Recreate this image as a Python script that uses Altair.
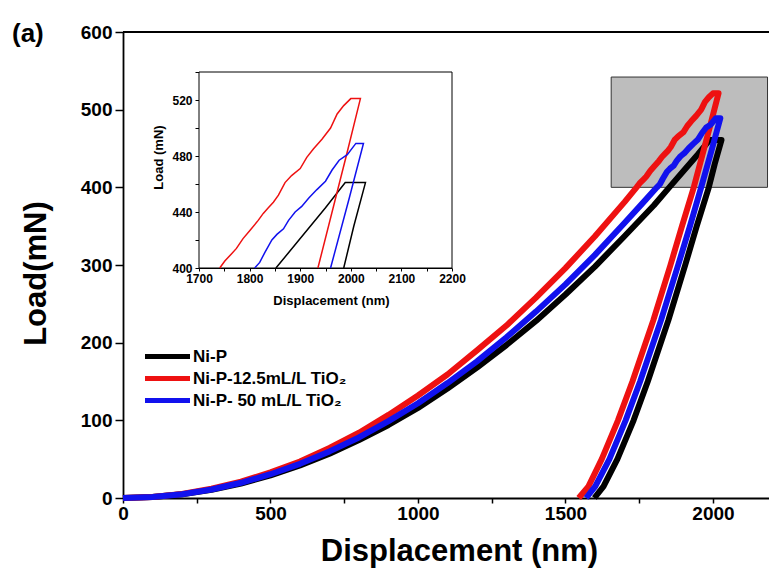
import altair as alt
import pandas as pd

# ---------------- data ----------------
series_names = ["Ni-P", "Ni-P-12.5mL/L TiO₂", "Ni-P- 50 mL/L TiO₂"]
series_colors = ["#000000", "#ee1111", "#1111ee"]

# Ni-P (black): loading, hold, unloading
nip_disp = [0, 100, 200, 300, 400, 500, 600, 700, 800, 900, 1000, 1100, 1200, 1300,
            1400, 1500, 1600, 1700, 1800, 1852, 1900, 1950, 1989, 2029,
            2006, 1986, 1945, 1906, 1849, 1779, 1731, 1676, 1629, 1598]
nip_load = [0, 1.2, 4.7, 10.5, 18.6, 29, 42, 57, 74.5, 94, 116, 141, 168, 197,
            228, 262, 298, 337, 377, 400, 421, 443, 461, 461,
            430, 400, 350, 300, 229, 150, 100, 50, 15, 0]

# Ni-P-12.5 mL/L TiO2 (red)
red_disp = [0, 100, 200, 300, 400, 500, 600, 700, 800, 900, 1000, 1100, 1200, 1300,
            1400, 1500, 1600, 1700, 1741, 1751, 1764, 1774, 1787, 1801, 1817, 1827,
            1837, 1847, 1857, 1870, 1883, 1900, 1913, 1926, 1943, 1960, 1973, 1986,
            2000, 2019,
            1991, 1970, 1935, 1895, 1856, 1798, 1727, 1678, 1623, 1578, 1545]
red_load = [0, 1.3, 5.3, 12, 21, 33, 47, 64.5, 84, 107, 132, 159, 190, 222,
            258, 296, 337, 381, 400, 405, 410, 414, 421, 427, 434, 439,
            443, 447, 452, 461, 466, 471, 479, 485, 492, 500, 510, 516,
            521, 521,
            480, 450, 400, 350, 300, 229, 150, 100, 50, 15, 0]

# Ni-P-50 mL/L TiO2 (blue)
blue_disp = [0, 100, 200, 300, 400, 500, 600, 700, 800, 900, 1000, 1100, 1200, 1300,
             1400, 1500, 1600, 1700, 1760, 1810, 1820, 1830, 1844, 1854, 1867, 1877,
             1890, 1903, 1917, 1933, 1950, 1963, 1977, 1993, 2010, 2025,
             1997, 1960, 1922, 1882, 1824, 1753, 1704, 1649, 1601, 1570]
blue_load = [0, 1.2, 4.9, 11, 19.6, 30.6, 44, 60, 78, 99, 122, 148, 176, 207,
             240, 275, 313, 354, 379, 400, 404, 411, 420, 424, 428, 434,
             440, 444, 450, 456, 462, 470, 477, 481, 489, 489,
             450, 400, 350, 300, 229, 150, 100, 50, 15, 0]

# grey box marking the zoomed region in the main plot
box_disp = [1655, 2185]
box_load = [400, 542]

# inset ranges
inset_disp = [1700, 2200]
inset_load = [400, 540]

main_x_ticks = [0, 250, 500, 750, 1000, 1250, 1500, 1750, 2000]
main_y_ticks = [0, 50, 100, 150, 200, 250, 300, 350, 400, 450, 500, 550, 600]
inset_x_ticks = [1700, 1750, 1800, 1850, 1900, 1950, 2000, 2050, 2100, 2150, 2200]
inset_y_ticks = [400, 420, 440, 460, 480, 500, 520, 540]

# ---------------- tables ----------------
rows = []
for name, disp, load in zip(series_names, [nip_disp, red_disp, blue_disp],
                            [nip_load, red_load, blue_load]):
    for i, (d, p) in enumerate(zip(disp, load)):
        rows.append({"series": name, "disp": d, "load": p, "idx": i})
df = pd.DataFrame(rows)

box_df = pd.DataFrame({"x0": [box_disp[0]], "x1": [box_disp[1]],
                       "y0": [box_load[0]], "y1": [box_load[1]]})
frame_df = pd.DataFrame({"x0": [inset_disp[0]], "x1": [inset_disp[1]],
                         "y0": [inset_load[0]], "y1": [inset_load[1]]})

W, H = 646, 466
X_MAX = 2190
FONT = "Liberation Sans"

color = alt.Color(
    "series:N",
    scale=alt.Scale(domain=series_names, range=series_colors),
    legend=alt.Legend(
        orient="none", legendX=33, legendY=313, title=None,
        symbolType="M-2.5,0H2.5", symbolStrokeWidth=5, symbolSize=324,
        labelFont=FONT, labelFontWeight="bold", labelFontSize=17,
        labelColor="black", labelOffset=14, rowPadding=0, labelLimit=400,
    ),
)

# ---------------- main plot ----------------
main_xscale = alt.Scale(domain=[0, X_MAX], nice=False, zero=False)
main_yscale = alt.Scale(domain=[0, 600], nice=False)

main_xaxis = alt.Axis(
    values=main_x_ticks, format="d", labelFlush=False,
    labelExpr="datum.value % 500 === 0 ? datum.label : ''",
    tickSize=5, tickWidth=1.5, domainWidth=1.8, labelPadding=1, labelFontSize=19,
    title="Displacement (nm)", titleFontSize=31, titleX=336, titleY=62,
    titleBaseline="alphabetic", titleAlign="center",
)
main_yaxis = alt.Axis(
    values=main_y_ticks, format="d", labelFlush=False,
    labelExpr="datum.value % 100 === 0 ? datum.label : ''",
    tickSize=8, tickWidth=1.5, domainWidth=1.8, labelPadding=3, labelFontSize=19,
    title="Load(mN)", titleFontSize=31, titleAngle=270, titleX=-78, titleY=241,
    titleBaseline="alphabetic", titleAlign="center",
)

box = alt.Chart(box_df).mark_rect(fill="#bdbdbd", stroke="#333333", strokeWidth=1).encode(
    x=alt.X("x0:Q", scale=main_xscale, axis=main_xaxis),
    x2="x1:Q",
    y=alt.Y("y0:Q", scale=main_yscale, axis=main_yaxis),
    y2="y1:Q",
)

lines = alt.Chart(df).mark_line(strokeWidth=6, strokeJoin="round").encode(
    x=alt.X("disp:Q", scale=main_xscale, axis=main_xaxis),
    y=alt.Y("load:Q", scale=main_yscale, axis=main_yaxis),
    color=color,
    order="idx:Q",
)

top_rule = alt.Chart(box_df).mark_rule(color="black", strokeWidth=1.8).encode(
    x=alt.datum(0), x2=alt.datum(X_MAX), y=alt.datum(600)
)

panel_label = alt.Chart(box_df).mark_text(
    text="(a)", font=FONT, fontWeight="bold", fontSize=26, align="left",
    baseline="alphabetic", color="black",
).encode(x=alt.value(-111), y=alt.value(10))

main = alt.layer(box, lines, top_rule, panel_label)

# ---------------- inset ----------------
inset_xscale = alt.Scale(domain=inset_disp, range=[76, 329], nice=False, zero=False)
inset_yscale = alt.Scale(domain=inset_load, range=[236, 40], nice=False, zero=False)

inset_xaxis = alt.Axis(
    orient="bottom", offset=-230, values=inset_x_ticks, format="d", labelFlush=False,
    labelExpr="datum.value % 100 === 0 ? datum.label : ''",
    tickSize=3, labelPadding=2, labelFontSize=12, domainWidth=1,
    title="Displacement (nm)", titleFontSize=13, titleX=208, titleY=36,
    titleBaseline="alphabetic", titleAlign="center",
)
inset_yaxis = alt.Axis(
    orient="left", offset=-76, values=inset_y_ticks, format="d", labelFlush=False,
    labelExpr="datum.value % 40 === 0 ? datum.label : ''",
    tickSize=4, labelPadding=3, labelFontSize=12, domainWidth=1,
    title="Load (mN)", titleFontSize=13, titleAngle=270, titleX=-37, titleY=125,
    titleBaseline="alphabetic", titleAlign="center",
)

frame = alt.Chart(frame_df).mark_rect(fill="white", stroke="black", strokeWidth=1).encode(
    x=alt.X("x0:Q", scale=inset_xscale, axis=inset_xaxis),
    x2="x1:Q",
    y=alt.Y("y0:Q", scale=inset_yscale, axis=inset_yaxis),
    y2="y1:Q",
)

inset_lines = alt.Chart(df).transform_filter("datum.load >= 400").mark_line(
    strokeWidth=1.5
).encode(
    x=alt.X("disp:Q", scale=inset_xscale, axis=inset_xaxis),
    y=alt.Y("load:Q", scale=inset_yscale, axis=inset_yaxis),
    color=color,
    order="idx:Q",
)

inset = alt.layer(frame, inset_lines)

chart = (
    alt.layer(main, inset)
    .resolve_scale(x="independent", y="independent")
    .properties(
        width=W, height=H,
        autosize=alt.AutoSizeParams(type="none"),
        padding={"left": 115, "top": 24, "right": 0, "bottom": 70},
    )
    .configure_view(stroke=None)
    .configure_axis(
        grid=False, domainColor="black", tickColor="black", labelColor="black",
        titleColor="black", labelFont=FONT, titleFont=FONT,
        labelFontWeight="bold", titleFontWeight="bold",
    )
)

chart.save("out.html", embed_options={"renderer": "svg", "actions": False})
